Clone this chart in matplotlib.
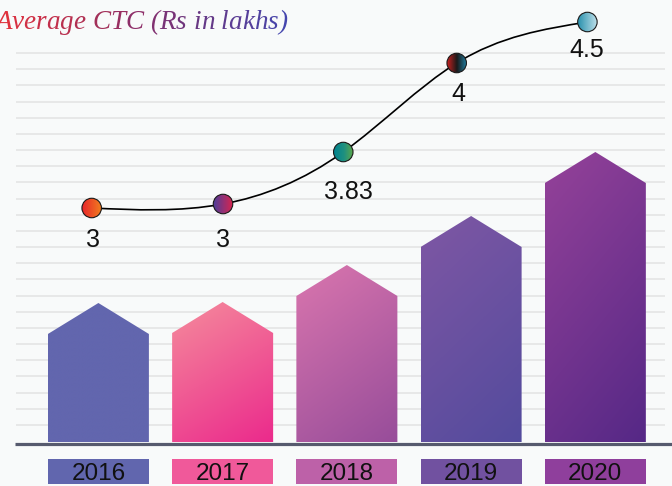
import numpy as np
import matplotlib
matplotlib.use("Agg")
import matplotlib.pyplot as plt
from matplotlib.patches import Polygon, Ellipse, Rectangle, PathPatch
from matplotlib.path import Path
from matplotlib.colors import LinearSegmentedColormap
from matplotlib.font_manager import FontProperties, findfont, get_font

# ---------------- data ----------------
years = ["2016", "2017", "2018", "2019", "2020"]
bar_heights = [108, 109, 146, 195, 259]          # decorative bar heights (shoulder)
ctc_values = [3, 3, 3.83, 4, 4.5]                # Average CTC (Rs in lakhs)
ctc_labels = ["3", "3", "3.83", "4", "4.5"]
ctc_levels = [234, 238, 290, 379, 420]           # heights of the markers on the chart
title = "Average CTC (Rs in lakhs)"

# ---------------- style ----------------
W_PX, H_PX = 672, 486
bar_width = 0.813
roof = 31
bar_grad = [("#6266AE", "#6266AE"), ("#F58C9C", "#EB2A8C"), ("#DA76AE", "#974D9A"),
            ("#7F57A4", "#534B9D"), ("#954299", "#552886")]
box_colors = ["#6166AE", "#F0599A", "#BD61A8", "#7151A0", "#8F3F9C"]
marker_grad = [["#E8252B", "#F2801F"], ["#4A3E9C", "#D9244E"], ["#00838F", "#1E9080", "#62AA45"],
               ["#C9201F", "#1A1A1A", "#1F80A4"], ["#2B92AE", "#C4E3EC"]]
marker_shift = [-0.054, 0.003, -0.029, -0.116, -0.064]
label_shift = [-0.043, 0.003, 0.009, -0.10, -0.07]
label_drop = [39, 43, 47, 38, 35]
title_stops = ["#E3323B", "#C8304A", "#A83055", "#8A2F6C", "#6A3780", "#5A3D95", "#4347B0"]
bg = "#F8FAFA"

fig = plt.figure(figsize=(W_PX / 100, H_PX / 100), dpi=100)
fig.patch.set_facecolor(bg)
ax = fig.add_axes([0, 0, 1, 1])
ax.set_facecolor(bg)
ax.axis("off")
XL = (-0.792, 4.617)
YL = (-44, 442)

# grid lines
for y in np.linspace(17, 389, 24):
    ax.plot([-0.663, 4.561], [y, y], color="#E2E3E3", lw=1.1, zorder=1,
            solid_capstyle="butt")


def grad_image(colors, n=200, wx=0.3, wy=0.7, horizontal=False):
    yy, xx = np.mgrid[0:1:n * 1j, 0:1:n * 1j]
    if horizontal:
        t = xx
    else:
        t = (wx * xx + wy * yy) / (wx + wy)
    cmap = LinearSegmentedColormap.from_list("g", colors)
    return cmap(t)


# bars
for i, (h, cols) in enumerate(zip(bar_heights, bar_grad)):
    x0, x1 = i - bar_width / 2, i + bar_width / 2
    verts = [(x0, 0), (x1, 0), (x1, h), (i, h + roof), (x0, h)]
    poly = Polygon(verts, closed=True, facecolor="none", edgecolor="none", zorder=2)
    ax.add_patch(poly)
    im = ax.imshow(grad_image(list(cols)), extent=(x0, x1, 0, h + roof), origin="upper",
                   aspect="auto", interpolation="bilinear", zorder=2)
    im.set_clip_path(poly)
    # year box
    ax.add_patch(Rectangle((x0, -42), bar_width, 25, facecolor=box_colors[i],
                           edgecolor="none", zorder=2))
    ax.text(i, -38.2, years[i], ha="center", va="baseline", fontsize=17.5,
            family="Liberation Sans", color="#111111", zorder=5)

# baseline
ax.plot([-0.671, 4.62], [-2, -2], color="#565A6E", lw=2.3, zorder=4,
        solid_capstyle="butt")

# smooth line (natural cubic spline drawn as bezier segments)
px = np.array([i + s for i, s in enumerate(marker_shift)], dtype=float)
py = np.array(ctc_levels, dtype=float)
n = len(px) - 1
hh = np.diff(px)
A = np.zeros((n + 1, n + 1))
rhs = np.zeros(n + 1)
A[0, 0] = 1
A[n, n] = 1
for i in range(1, n):
    A[i, i - 1] = hh[i - 1]
    A[i, i] = 2 * (hh[i - 1] + hh[i])
    A[i, i + 1] = hh[i]
    rhs[i] = 6 * ((py[i + 1] - py[i]) / hh[i] - (py[i] - py[i - 1]) / hh[i - 1])
M = np.linalg.solve(A, rhs)
m = np.zeros(n + 1)
for i in range(n):
    m[i] = (py[i + 1] - py[i]) / hh[i] - hh[i] * (2 * M[i] + M[i + 1]) / 6
m[n] = (py[n] - py[n - 1]) / hh[n - 1] + hh[n - 1] * (M[n - 1] + 2 * M[n]) / 6
verts = [(px[0], py[0])]
codes = [Path.MOVETO]
for i in range(n):
    h = hh[i]
    verts += [(px[i] + h / 3, py[i] + m[i] * h / 3),
              (px[i + 1] - h / 3, py[i + 1] - m[i + 1] * h / 3),
              (px[i + 1], py[i + 1])]
    codes += [Path.CURVE4] * 3
ax.add_patch(PathPatch(Path(verts, codes), facecolor="none", edgecolor="black",
                       lw=1.2, zorder=6))

# markers
rx = 19.5 / 124.24
ry = 19.5
for i in range(len(px)):
    e = Ellipse((px[i], py[i]), rx, ry, facecolor="none", edgecolor="none", zorder=7)
    ax.add_patch(e)
    im = ax.imshow(grad_image(marker_grad[i], horizontal=True),
                   extent=(px[i] - rx / 2, px[i] + rx / 2, py[i] - ry / 2, py[i] + ry / 2),
                   origin="upper", aspect="auto", interpolation="bilinear", zorder=7)
    im.set_clip_path(e)
    ax.add_patch(Ellipse((px[i], py[i]), rx, ry, facecolor="none", edgecolor="#1a1a1a",
                         lw=0.8, zorder=8))
    ax.text(i + label_shift[i], py[i] - label_drop[i], ctc_labels[i], ha="center",
            va="baseline", fontsize=18, family="Liberation Sans", color="#111111",
            zorder=9)

ax.set_xlim(*XL)
ax.set_ylim(*YL)
ax.set_aspect("auto")

# gradient title, character by character
tsize = 19.5
fp_title = FontProperties(family="Liberation Serif", style="italic", size=tsize)
font = get_font(findfont(fp_title))
font.set_size(tsize, 100)
advs = []
for c in title:
    g = font.load_char(ord(c))
    advs.append(g.linearHoriAdvance / 65536)
total = sum(advs)
tcmap = LinearSegmentedColormap.from_list("title", title_stops)
x = -5.0
x_start = x
for c, a in zip(title, advs):
    if c != " ":
        frac = (x + a / 2 - x_start) / total
        fig.text(x / W_PX, 1 - 29 / H_PX, c, fontproperties=fp_title,
                 color=tcmap(frac), ha="left", va="baseline")
    x += a

fig.savefig("out.png", dpi=100, facecolor=bg)
